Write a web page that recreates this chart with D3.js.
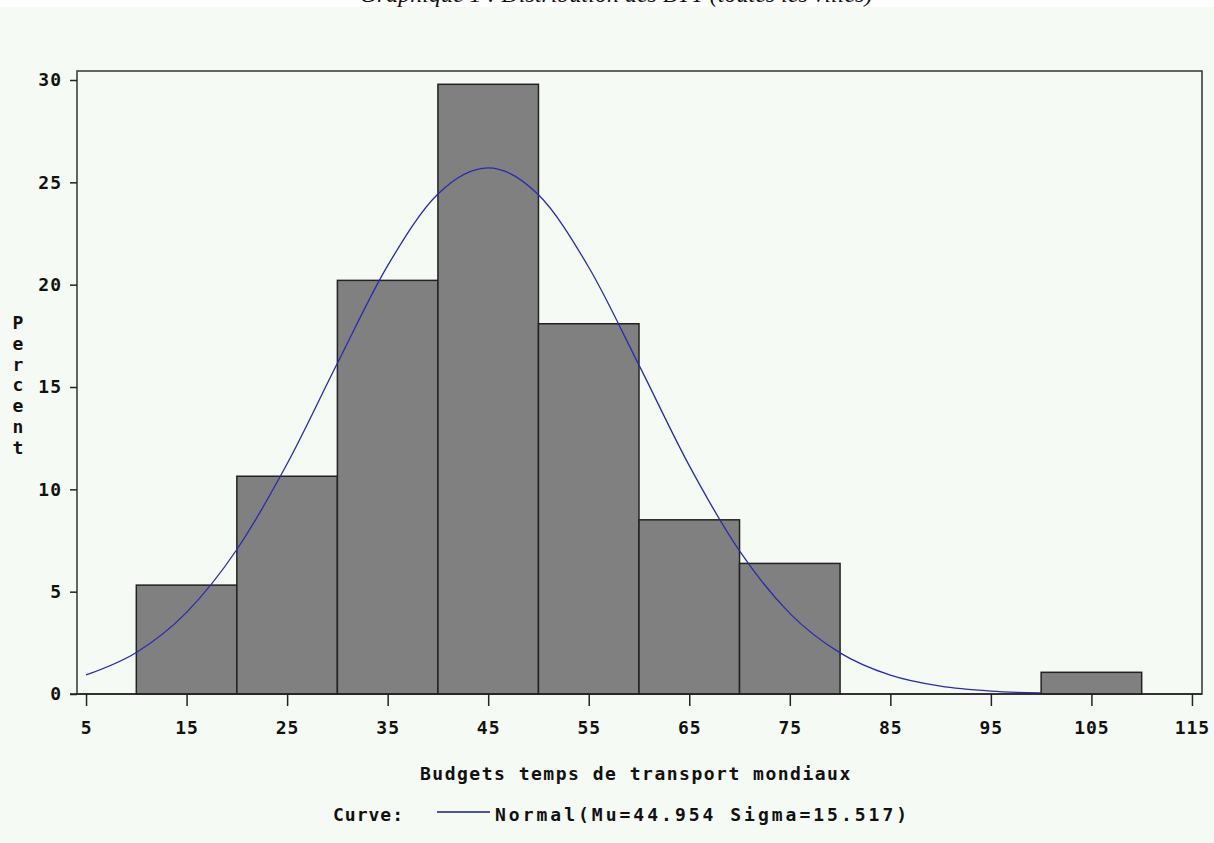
<!DOCTYPE html>
<html>
<head>
<meta charset="utf-8">
<script src="https://cdn.jsdelivr.net/npm/d3@7"></script>
<style>
	body { margin: 0; background: #ffffff; }
	svg text { font-family: "DejaVu Sans Mono", monospace; font-weight: bold; fill: #111; }
	.title { font-family: "Liberation Serif", serif; font-style: italic; font-weight: normal; }
</style>
</head>
<body>
<div id="graph"></div>
<script>
// histogram bins (lower edge) and percent of cities
var binStarts = [10, 20, 30, 40, 50, 60, 70, 80, 90, 100];
var binPercent = [5.32, 10.64, 20.21, 29.79, 18.09, 8.51, 6.38, 0, 0, 1.06];
var binWidth = 10;

// fitted normal curve
var curveX = [5, 10, 15, 20, 25, 30, 35, 40, 45, 50, 55, 60, 65, 70, 75, 80, 85, 90, 95, 100];
var curveY = [0.93, 2.03, 3.99, 7.06, 11.25, 16.16, 20.93, 24.43, 25.71, 24.39, 20.85, 16.07, 11.16, 6.99, 3.94, 2.01, 0.92, 0.38, 0.14, 0.05];

var xTicks = [5, 15, 25, 35, 45, 55, 65, 75, 85, 95, 105, 115];
var yTicks = [0, 5, 10, 15, 20, 25, 30];

const margin = {
	top: 71,
	right: 12,
	left: 77,
	bottom: 149
};
const fullWidth = 1214;
const fullHeight = 843;
const width = fullWidth - margin.left - margin.right;
const height = fullHeight - margin.top - margin.bottom;

var root = d3.select("#graph")
	.append("svg")
	.attr("width", fullWidth)
	.attr("height", fullHeight);

// page background (light tint under the white top strip)
root.append("rect")
	.attr("x", 0).attr("y", 7)
	.attr("width", fullWidth).attr("height", fullHeight - 7)
	.attr("fill", "#f6faf4");

// title, cut off by the top edge as in the original
root.append("text")
	.attr("class", "title")
	.attr("x", 616)
	.attr("y", 2)
	.attr("text-anchor", "middle")
	.style("font-size", "24px")
	.text("Graphique 1 : Distribution des BTT (toutes les villes)");

var svg = root.append("g")
	.attr('transform', 'translate(' + margin.left + ',' + margin.top + ')');

var xScale = d3.scaleLinear()
	.domain([4.1, 116])
	.range([0, width]);

var yScale = d3.scaleLinear()
	.domain([0, 30])
	.range([height, 9]);

// frame
svg.append("rect")
	.attr("width", width)
	.attr("height", height)
	.attr("fill", "none")
	.attr("stroke", "#333")
	.attr("stroke-width", 1.5);

// bars
svg.append("g").selectAll(".bar")
	.data(binStarts)
	.enter().append("rect")
	.attr("class", "bar")
	.attr("fill", "#808080")
	.attr("stroke", "#222")
	.attr("stroke-width", 1.5)
	.attr("x", (d) => xScale(d))
	.attr("y", (d, i) => yScale(binPercent[i]))
	.attr("width", (d) => xScale(d + binWidth) - xScale(d))
	.attr("height", (d, i) => yScale(0) - yScale(binPercent[i]))
	.style("display", (d, i) => binPercent[i] > 0 ? null : "none");

// normal curve
var line = d3.line()
	.x((d, i) => xScale(d))
	.y((d, i) => yScale(curveY[i]))
	.curve(d3.curveMonotoneX);

svg.append("path")
	.datum(curveX)
	.attr("d", line)
	.attr("fill", "none")
	.attr("stroke", "#2a2ab0")
	.attr("stroke-width", 1.3);

// x axis
var xAxis = d3.axisBottom(xScale)
	.tickValues(xTicks)
	.tickSize(12)
	.tickPadding(15);

var gx = svg.append("g")
	.classed('x axis', true)
	.attr('transform', `translate(0, ${height})`)
	.call(xAxis);
gx.select(".domain").remove();
gx.selectAll("line").attr("stroke", "#222").attr("stroke-width", 1.5);
gx.selectAll("text").style("font-size", "18px").style("letter-spacing", "1px");
gx.append("line")
	.attr("x1", -7).attr("x2", width)
	.attr("stroke", "#222").attr("stroke-width", 1.5);

// y axis
var yAxis = d3.axisLeft(yScale)
	.tickValues(yTicks)
	.tickSize(7)
	.tickPadding(8);

var gy = svg.append("g")
	.classed('y axis', true)
	.call(yAxis);
gy.select(".domain").remove();
gy.selectAll("line").attr("stroke", "#222").attr("stroke-width", 1.5);
gy.selectAll("text").style("font-size", "18px").style("letter-spacing", "1px");

// vertical y label
var yLabel = "Percent".split("");
root.append("g").selectAll("text")
	.data(yLabel)
	.enter().append("text")
	.attr("x", 18)
	.attr("y", (d, i) => 329 + i * 20.8)
	.attr("text-anchor", "middle")
	.style("font-size", "18px")
	.text(String);

// x label
root.append("text")
	.attr("x", 420)
	.attr("y", 780)
	.style("font-size", "18px")
	.style("letter-spacing", "1.5px")
	.text("Budgets temps de transport mondiaux");

// legend
root.append("text")
	.attr("x", 333)
	.attr("y", 821)
	.style("font-size", "18px")
	.style("letter-spacing", "1px")
	.text("Curve:");

root.append("line")
	.attr("x1", 437).attr("x2", 490)
	.attr("y1", 812).attr("y2", 812)
	.attr("stroke", "#1a1a80")
	.attr("stroke-width", 1.5);

root.append("text")
	.attr("x", 495)
	.attr("y", 821)
	.style("font-size", "18px")
	.style("letter-spacing", "3px")
	.text("Normal(Mu=44.954 Sigma=15.517)");
</script>
</body>
</html>
